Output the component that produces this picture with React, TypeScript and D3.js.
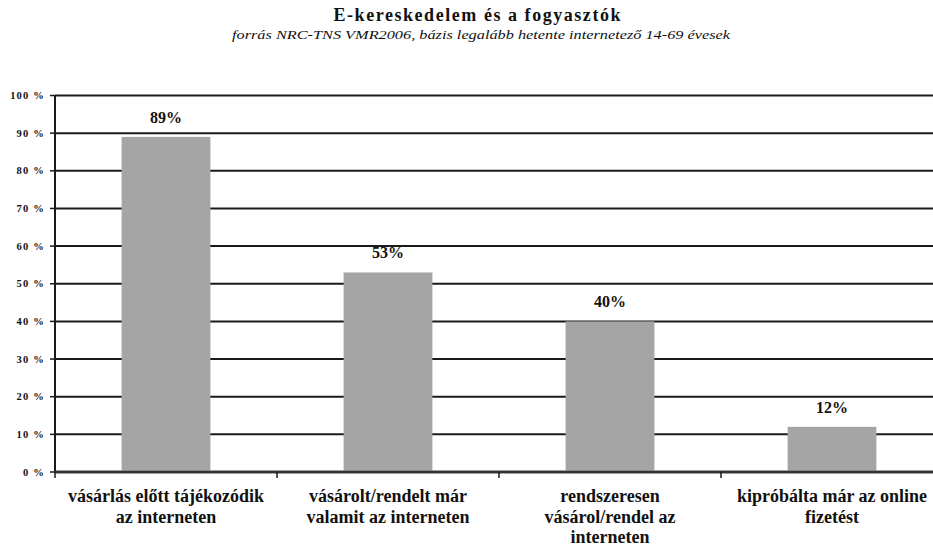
import React from "react";
import * as d3 from "d3";

const categories: string[][] = [
  ["vásárlás előtt tájékozódik", "az interneten"],
  ["vásárolt/rendelt már", "valamit az interneten"],
  ["rendszeresen", "vásárol/rendel az", "interneten"],
  ["kipróbálta már az online", "fizetést"],
];
const values: number[] = [89, 53, 40, 12];
const yTicks: number[] = [0, 10, 20, 30, 40, 50, 60, 70, 80, 90, 100];
const title = "E-kereskedelem és a fogyasztók";
const subtitle = "forrás NRC-TNS VMR2006, bázis legalább hetente internetező 14-69 évesek";

const W = 933;
const H = 547;
const left = 55;
const right = 943;
const top = 95.5;
const bottom = 472;

const font = "Liberation Serif, Tinos, Times New Roman, DejaVu Serif, serif";

export default function App() {
  const x = d3
    .scaleBand<number>()
    .domain(values.map((_, i) => i))
    .range([left, right])
    .paddingInner(0.6)
    .paddingOuter(0.3);
  const y = d3.scaleLinear().domain([0, 100]).range([bottom, top]);
  const step = (right - left) / values.length;
  const ts = { fontFamily: font };

  return (
    <svg
      width={W}
      height={H}
      style={{ position: "absolute", left: 0, top: 0, background: "#fff", fontFamily: font }}
    >
      <text
        x={477}
        y={21}
        textAnchor="middle"
        fontSize={18}
        fontWeight="bold"
        fill="#111"
        textLength={287}
        lengthAdjust="spacing"
        style={ts}
      >
        {title}
      </text>
      <text
        x={481}
        y={39}
        textAnchor="middle"
        fontSize={12}
        fontStyle="italic"
        fill="#111"
        textLength={498}
        lengthAdjust="spacingAndGlyphs"
        style={ts}
      >
        {subtitle}
      </text>

      {yTicks.map((t) => (
        <g key={t}>
          <line x1={left} x2={right} y1={y(t)} y2={y(t)} stroke="#1a1a1a" strokeWidth={t === 0 ? 2.5 : 2} />
          <line x1={left - 5} x2={left} y1={y(t)} y2={y(t)} stroke="#1a1a1a" strokeWidth={1.5} />
          <text
            x={45}
            y={y(t)}
            dy="0.35em"
            textAnchor="end"
            fontSize={10.5}
            fontWeight="bold"
            letterSpacing={1.2}
            fill="#111"
            style={ts}
          >
            {`${t} %`}
          </text>
        </g>
      ))}

      {values.map((v, i) => (
        <g key={i}>
          <rect x={x(i)} y={y(v)} width={x.bandwidth()} height={bottom - y(v)} fill="#a5a5a5" />
          <text
            x={(x(i) as number) + x.bandwidth() / 2}
            y={y(v) - 14}
            textAnchor="middle"
            fontSize={16}
            fontWeight="bold"
            fill="#111"
            style={ts}
          >
            {`${v}%`}
          </text>
        </g>
      ))}

      <line x1={left} x2={left} y1={top} y2={bottom} stroke="#1a1a1a" strokeWidth={2} />
      <line x1={left} x2={right} y1={bottom} y2={bottom} stroke="#333" strokeWidth={2.5} />
      {d3.range(values.length + 1).map((k) => (
        <line
          key={k}
          x1={left + k * step}
          x2={left + k * step}
          y1={bottom}
          y2={bottom + 6}
          stroke="#1a1a1a"
          strokeWidth={1.5}
        />
      ))}

      {categories.map((lines, i) => (
        <text
          key={i}
          x={(x(i) as number) + x.bandwidth() / 2}
          y={502}
          textAnchor="middle"
          fontSize={18}
          fontWeight="bold"
          fill="#111"
          style={ts}
        >
          {lines.map((l, j) => (
            <tspan key={j} x={(x(i) as number) + x.bandwidth() / 2} dy={j === 0 ? 0 : 20.5}>
              {l}
            </tspan>
          ))}
        </text>
      ))}
    </svg>
  );
}
